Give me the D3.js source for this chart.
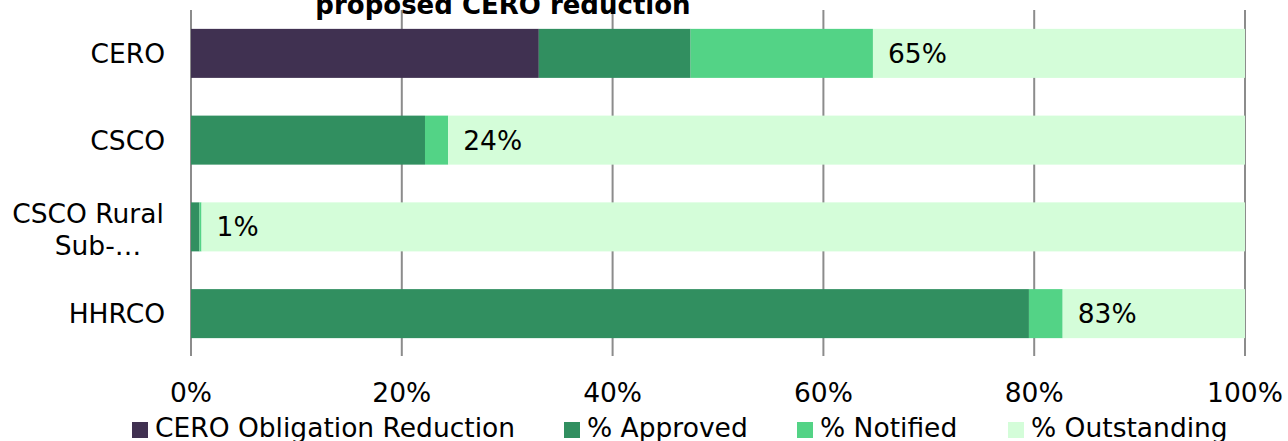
<!DOCTYPE html>
<html><head><meta charset="utf-8">
<script src="https://cdn.jsdelivr.net/npm/d3@7"></script>
<style>body{margin:0;background:#fff}svg{display:block}</style>
</head><body><svg id="c" width="1288" height="441"></svg>
<script>
const categories = ["CERO", "CSCO", "CSCO Rural Sub-…", "HHRCO"];
const seriesNames = ["CERO Obligation Reduction", "% Approved", "% Notified", "% Outstanding"];
const ceroReduction = [33.0, 0, 0, 0];
const approved = [14.4, 22.2, 0.8, 79.5];
const notified = [17.3, 2.2, 0.2, 3.2];
const outstanding = [35.3, 75.6, 99.0, 17.3];
const barLabels = ["65%", "24%", "1%", "83%"];
const xTicks = [0, 20, 40, 60, 80, 100];
const colors = ["#403151", "#318f60", "#53d386", "#d4fdd9"];
const titleText = "proposed CERO reduction";

const svg = d3.select("#c");
const font = "DejaVu Sans, Verdana, sans-serif";
const fs = 26.5;
const L = 191, R = 1245, T = 10, B = 357;
const x = d3.scaleLinear().domain([0, 100]).range([L, R]);
const y = d3.scaleBand().domain(categories).range([T, B]).paddingInner(0.435).paddingOuter(0.2175);

// gridlines
svg.append("g").selectAll("line").data(xTicks).join("line")
  .attr("x1", d => x(d)).attr("x2", d => x(d)).attr("y1", T).attr("y2", B - 1)
  .attr("stroke", "#8c8c8c").attr("stroke-width", 2);

// stacked bars
const stackData = categories.map((c, i) => {
  const vals = [ceroReduction[i], approved[i], notified[i], outstanding[i]];
  const o = {cat: c};
  seriesNames.forEach((s, j) => o[s] = vals[j]);
  return o;
});
const stack = d3.stack().keys(seriesNames)(stackData);
svg.append("g").selectAll("g").data(stack).join("g")
  .attr("fill", (d, i) => colors[i])
  .selectAll("rect").data(d => d).join("rect")
  .attr("x", d => x(d[0])).attr("width", d => Math.max(0, x(d[1]) - x(d[0])))
  .attr("y", d => y(d.data.cat)).attr("height", y.bandwidth());

// bar labels at end of notified
svg.append("g").selectAll("text").data(categories).join("text")
  .attr("x", (d, i) => x(ceroReduction[i] + approved[i] + notified[i]) + 15)
  .attr("y", d => y(d) + y.bandwidth() / 2 + 9.5)
  .attr("font-family", font).attr("font-size", fs).attr("fill", "#000")
  .text((d, i) => barLabels[i]);

// category labels
const catG = svg.append("g");
categories.forEach(c => {
  const cy = y(c) + y.bandwidth() / 2;
  if (c.startsWith("CSCO Rural")) {
    const t = catG.append("text").attr("font-family", font).attr("font-size", fs).attr("text-anchor", "middle");
    t.append("tspan").attr("x", 88).attr("y", cy - 4).text("CSCO Rural");
    t.append("tspan").attr("x", 98).attr("y", cy + 28).text("Sub-…");
  } else {
    catG.append("text").attr("font-family", font).attr("font-size", fs)
      .attr("text-anchor", "end").attr("x", 165).attr("y", cy + 9.5).text(c);
  }
});

// x tick labels
svg.append("g").selectAll("text").data(xTicks).join("text")
  .attr("x", d => x(d)).attr("y", 402).attr("text-anchor", "middle")
  .attr("font-family", font).attr("font-size", fs).text(d => d + "%");

// title
svg.append("text").attr("x", 503).attr("y", 14).attr("text-anchor", "middle")
  .attr("font-family", font).attr("font-size", 26).attr("font-weight", "bold").text(titleText);

// legend
const legX = [132, 564, 797, 1008];
const lg = svg.append("g").selectAll("g").data(seriesNames).join("g")
  .attr("transform", (d, i) => `translate(${legX[i]},0)`);
lg.append("rect").attr("x", 0).attr("y", 422).attr("width", 16).attr("height", 16).attr("fill", (d, i) => colors[i]);
lg.append("text").attr("x", 23).attr("y", 437).attr("font-family", font).attr("font-size", fs).text(d => d);
</script></body></html>
